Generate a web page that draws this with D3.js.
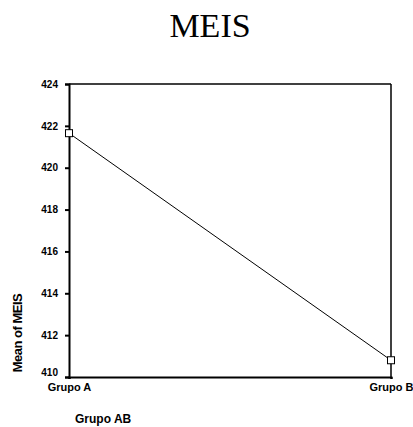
<!DOCTYPE html>
<html>
<head>
<meta charset="utf-8">
<script src="https://cdn.jsdelivr.net/npm/d3@7"></script>
<style>
  body { margin: 0; background: white; }
  svg { display: block; }
</style>
</head>
<body>
<script>
// chart data
var groups = ['Grupo A', 'Grupo B'],
    means = [421.65, 410.8],
    yTicks = [410, 412, 414, 416, 418, 420, 422, 424];

var width = 413, height = 427,
    plotLeft = 69, plotRight = 391, plotTop = 84, plotBottom = 377;

var svg = d3.select('body').append('svg')
    .attr('width', width)
    .attr('height', height);

var x = d3.scalePoint().domain(groups).range([plotLeft, plotRight]);
var y = d3.scaleLinear().domain([410, 424]).range([plotBottom, plotTop]);

// title
svg.append('text')
  .attr('x', 210).attr('y', 37)
  .attr('text-anchor', 'middle')
  .style('font-family', '"Liberation Serif", "Times New Roman", serif')
  .style('font-size', '34px')
  .text('MEIS');

// frame (top / right)
svg.append('line')
  .attr('x1', plotLeft).attr('x2', plotRight).attr('y1', plotTop).attr('y2', plotTop)
  .attr('stroke', 'black').attr('stroke-width', 1.5);
svg.append('line')
  .attr('x1', plotRight).attr('x2', plotRight).attr('y1', plotTop).attr('y2', plotBottom)
  .attr('stroke', 'black').attr('stroke-width', 1.5);

// y axis
var yAxis = svg.append('g')
  .attr('transform', 'translate(' + plotLeft + ',0)')
  .call(d3.axisLeft(y).tickValues(yTicks).tickSize(4).tickPadding(7).tickFormat(d3.format('d')));
yAxis.select('.domain').attr('stroke-width', 2);
yAxis.selectAll('.tick line').attr('stroke-width', 2);
yAxis.selectAll('text')
  .style('font-family', 'Arial, "Liberation Sans", sans-serif')
  .style('font-size', '10px')
  .style('font-weight', 'bold')
  .attr('fill', 'black');
// lowest label sits a little above its tick, clear of the category label
yAxis.selectAll('.tick').filter(function(d) { return d === 410; })
  .select('text').attr('dy', '-0.2em');

// x axis
var xAxis = svg.append('g')
  .attr('transform', 'translate(0,' + plotBottom + ')')
  .call(d3.axisBottom(x).tickSize(2).tickPadding(4));
xAxis.select('.domain').attr('stroke-width', 2);
xAxis.selectAll('.tick line').attr('stroke-width', 2);
xAxis.selectAll('text')
  .style('font-family', 'Arial, "Liberation Sans", sans-serif')
  .style('font-size', '11px')
  .style('font-weight', 'bold')
  .attr('fill', 'black');

// axis titles
svg.append('text')
  .attr('transform', 'translate(22,333) rotate(-90)')
  .attr('text-anchor', 'middle')
  .style('font-family', 'Arial, "Liberation Sans", sans-serif')
  .style('font-size', '13px')
  .style('font-weight', 'bold')
  .style('letter-spacing', '-0.5px')
  .text('Mean of MEIS');

svg.append('text')
  .attr('x', 75).attr('y', 423)
  .style('font-family', 'Arial, "Liberation Sans", sans-serif')
  .style('font-size', '12px')
  .style('font-weight', 'bold')
  .text('Grupo AB');

// mean line
var pts = groups.map(function(g, i) { return { g: g, v: means[i] }; });
svg.append('path')
  .datum(pts)
  .attr('fill', 'none')
  .attr('stroke', 'black')
  .attr('stroke-width', 1)
  .attr('d', d3.line()
    .x(function(d) { return x(d.g); })
    .y(function(d) { return y(d.v); }));

svg.selectAll('.marker')
  .data(pts).enter()
  .append('rect')
  .attr('class', 'marker')
  .attr('x', function(d) { return x(d.g) - 3.5; })
  .attr('y', function(d) { return y(d.v) - 3.5; })
  .attr('width', 7).attr('height', 7)
  .attr('fill', 'white')
  .attr('stroke', 'black')
  .attr('stroke-width', 1);
</script>
</body>
</html>
